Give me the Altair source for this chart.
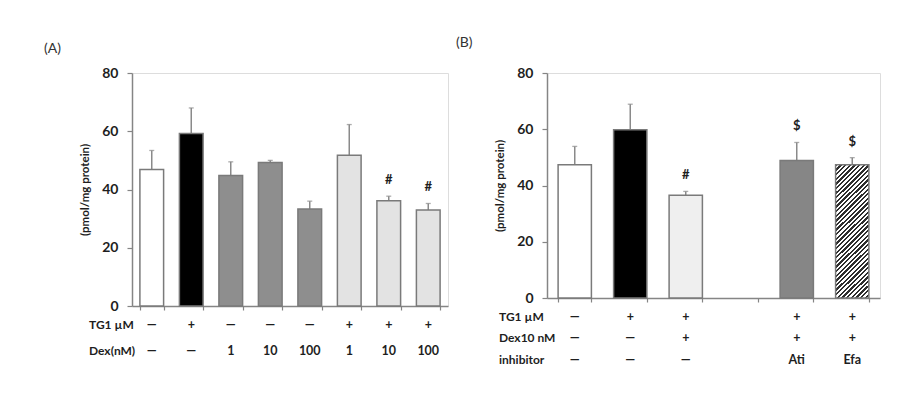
import altair as alt
import pandas as pd

# ---------------- Panel A data ----------------
ids_A = ["a1", "a2", "a3", "a4", "a5", "a6", "a7", "a8"]
vals_A = [46.9, 59.2, 44.8, 49.3, 33.3, 51.8, 36.1, 33.0]
errtop_A = [53.4, 68.0, 49.5, 50.0, 36.0, 62.3, 37.7, 35.2]
tg1_A = ["—", "+", "—", "—", "—", "+", "+", "+"]
dex_A = ["—", "—", "1", "10", "100", "1", "10", "100"]
sig_A = ["", "", "", "", "", "", "#", "#"]

# ---------------- Panel B data ----------------
ids_B = ["b1", "b2", "b3", "b4", "b5", "b6"]
vals_B = [47.4, 59.8, 36.5, None, 48.9, 47.4]
errtop_B = [53.9, 68.9, 37.9, None, 55.3, 49.9]
tg1_B = ["—", "+", "+", "", "+", "+"]
dex_B = ["—", "—", "+", "", "+", "+"]
inh_B = ["—", "—", "—", "", "Ati", "Efa"]
sig_B = ["", "", "#", "", "$", "$"]

# ---------------- styles ----------------
fills_A = ["#ffffff", "#000000", "#8e8e8e", "#8e8e8e", "#8e8e8e", "#e3e3e3", "#e3e3e3", "#e3e3e3"]
fills_B = ["#ffffff", "#000000", "#efefef", "#ffffff", "#868686", "#ffffff"]
AX = "#858585"
TXT = "#1e1e1e"
FONT = "Lato"

df_A = pd.DataFrame({"id": ids_A, "val": vals_A, "err": errtop_A,
                     "tg1": tg1_A, "dex": dex_A, "sig": sig_A})
df_B = pd.DataFrame({"id": ids_B, "val": vals_B, "err": errtop_B,
                     "tg1": tg1_B, "dex": dex_B, "inh": inh_B, "sig": sig_B})

# hatch gradient (diagonal stripes) for the "Efa" bar
N = 36
stops = []
for i in range(N):
    stops += [
        {"offset": i / N, "color": "#2e2e2e"},
        {"offset": (i + 0.5) / N, "color": "#2e2e2e"},
        {"offset": (i + 0.5) / N, "color": "#ffffff"},
        {"offset": (i + 1) / N, "color": "#ffffff"},
    ]
hatch = {"gradient": "linear", "x1": 0, "y1": 0, "x2": 0.29, "y2": 1.175, "stops": stops}


def panel(df, ids, fills, width, height, rows, tag, tag_x, tag_y, label_x, hatch_id=None):
    xs = alt.X("id:N", sort=ids,
               scale=alt.Scale(domain=ids, paddingInner=0.4, paddingOuter=0.2),
               axis=alt.Axis(title=None, labels=False, tickBand="extent", tickSize=4,
                             domainColor=AX, tickColor=AX, domainWidth=1.5, tickWidth=1.2))

    def ys(field):
        return alt.Y(f"{field}:Q", scale=alt.Scale(domain=[0, 80]),
                     axis=alt.Axis(values=[0, 20, 40, 60, 80], title="(pmol/mg protein)",
                                   grid=False, tickSize=5, labelPadding=9, titlePadding=11,
                                   domainColor=AX, tickColor=AX, domainWidth=1.5, tickWidth=1.2,
                                   labelFont=FONT, labelFontSize=14, labelFontWeight="bold",
                                   labelColor=TXT, titleFont=FONT, titleFontSize=11.5,
                                   titleFontWeight="bold", titleColor=TXT))

    base = alt.Chart(df)
    valid = base.transform_filter("isValid(datum.val)")
    err = valid.mark_rule(color="#8a8a8a", strokeWidth=1.5).encode(x=xs, y=ys("val"), y2="err:Q")
    cap = valid.mark_tick(color="#8a8a8a", thickness=1.3, size=5).encode(x=xs, y=ys("err"))
    bars_src = valid if hatch_id is None else valid.transform_filter(f"datum.id != '{hatch_id}'")
    bars = bars_src.mark_bar(stroke="#7a7a7a", strokeWidth=1.5).encode(
        x=xs, y=ys("val"),
        fill=alt.Fill("id:N", scale=alt.Scale(domain=ids, range=fills), legend=None))
    layers = [err, cap, bars]
    if hatch_id is not None:
        hb = valid.transform_filter(f"datum.id == '{hatch_id}'").mark_bar(
            fill=hatch, stroke="#7a7a7a", strokeWidth=1.5).encode(x=xs, y=ys("val"))
        layers.append(hb)
    sig = valid.mark_text(baseline="bottom", dy=-9, font=FONT, fontSize=13,
                          fontWeight="bold", color=TXT).encode(x=xs, y=ys("err"), text="sig:N")
    layers.append(sig)
    for field, label, dy in rows:
        layers.append(base.mark_text(font=FONT, fontSize=12.5, fontWeight="bold", color=TXT,
                                     baseline="middle").encode(
            x=xs, y=alt.value(height + dy), text=f"{field}:N"))
        layers.append(alt.Chart(pd.DataFrame({"t": [label]})).mark_text(
            font=FONT, fontSize=12, fontWeight="bold", color=TXT, align="left",
            baseline="middle").encode(x=alt.value(label_x), y=alt.value(height + dy), text="t:N"))
    layers.append(alt.Chart(pd.DataFrame({"t": [tag]})).mark_text(
        font=FONT, fontSize=14, color="#333333", align="left", baseline="middle").encode(
        x=alt.value(tag_x), y=alt.value(tag_y), text="t:N"))
    return alt.layer(*layers).properties(width=width, height=height)


pA = panel(df_A, ids_A, fills_A, 316, 233,
           [("tg1", "TG1 µM", 19), ("dex", "Dex(nM)", 45)],
           "(A)", -88, -24, -43)
pB = panel(df_B, ids_B, fills_B, 333, 225,
           [("tg1", "TG1 µM", 19), ("dex", "Dex10 nM", 40), ("inh", "inhibitor", 62)],
           "(B)", -91, -30, -48, hatch_id="b6")

chart = alt.hconcat(pA, pB, spacing=99, bounds="flush").resolve_scale(
    fill="independent"
).properties(
    padding={"left": 35, "top": 27, "right": 5, "bottom": 5}
).configure_view(stroke=None).configure(background="white")

chart.save("out.html", embed_options={"renderer": "svg", "actions": False})
